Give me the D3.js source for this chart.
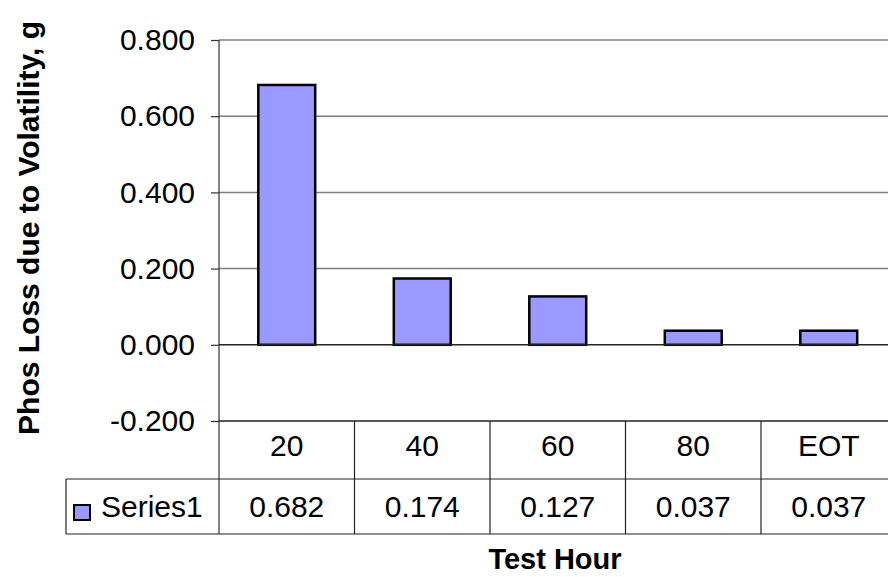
<!DOCTYPE html>
<html>
<head>
<meta charset="utf-8">
<script src="https://cdn.jsdelivr.net/npm/d3@7"></script>
<style>
  html, body { margin: 0; padding: 0; background: #fff; }
  svg { display: block; }
  text { font-family: "Liberation Sans", Arial, sans-serif; fill: #000; }
</style>
</head>
<body>
<svg id="chart" width="888" height="577"></svg>
<script>
const categories = ["20", "40", "60", "80", "EOT"];
const values = [0.682, 0.174, 0.127, 0.037, 0.037];
const valueLabels = ["0.682", "0.174", "0.127", "0.037", "0.037"];
const yTicks = [-0.2, 0, 0.2, 0.4, 0.6, 0.8];
const seriesName = "Series1";
const yTitle = "Phos Loss due to Volatility, g";
const xTitle = "Test Hour";

(function () {
const svg = d3.select("#chart");
const pLeft = 219, pRight = 896.5, pTop = 40, pBottom = 421;
const headerBottom = 479, tableBottom = 534, legendLeft = 66;
const fs = 30;

const x = d3.scaleBand().domain(categories).range([pLeft, pRight]).paddingInner(0).paddingOuter(0);
const xb = d3.scaleBand().domain(categories).range([pLeft, pRight]).paddingInner(0.58).paddingOuter(0.29);
const y = d3.scaleLinear().domain([-0.2, 0.8]).range([pBottom, pTop]);

// gridlines
svg.append("g").selectAll("line").data(yTicks.filter(t => t !== -0.2 && t !== 0)).join("line")
  .attr("x1", pLeft).attr("x2", 888).attr("y1", d => y(d)).attr("y2", d => y(d))
  .attr("stroke", "#808080").attr("stroke-width", 1.5);

// y axis
const fmt = d3.format(".3f");
const yAxis = d3.axisLeft(y).tickValues(yTicks).tickFormat(d => fmt(d).replace("\u2212", "-")).tickSize(8).tickPadding(16);
const ya = svg.append("g").attr("transform", `translate(${pLeft},0)`).call(yAxis);
ya.select(".domain").remove();
ya.selectAll(".tick line").attr("stroke", "#333").attr("stroke-width", 1.2);
ya.selectAll(".tick text").attr("font-size", fs).attr("font-family", "Liberation Sans, Arial, sans-serif").attr("fill", "#000");
svg.append("line").attr("x1", pLeft).attr("x2", pLeft).attr("y1", pTop).attr("y2", tableBottom)
  .attr("stroke", "#333").attr("stroke-width", 1.2);

// bars
svg.append("g").selectAll("rect").data(values).join("rect")
  .attr("x", (d, i) => xb(categories[i]))
  .attr("width", xb.bandwidth())
  .attr("y", d => y(Math.max(0, d)))
  .attr("height", d => Math.abs(y(d) - y(0)))
  .attr("fill", "#9999FF").attr("stroke", "#000").attr("stroke-width", 2.5);

// zero line
svg.append("line").attr("x1", pLeft).attr("x2", 888).attr("y1", y(0)).attr("y2", y(0))
  .attr("stroke", "#222").attr("stroke-width", 1.5);

// table
const tg = svg.append("g");
tg.append("line").attr("x1", pLeft).attr("x2", 888).attr("y1", pBottom).attr("y2", pBottom).attr("stroke", "#222").attr("stroke-width", 1.5);
tg.append("line").attr("x1", legendLeft).attr("x2", 888).attr("y1", headerBottom).attr("y2", headerBottom).attr("stroke", "#222").attr("stroke-width", 1.2);
tg.append("line").attr("x1", legendLeft).attr("x2", 888).attr("y1", tableBottom).attr("y2", tableBottom).attr("stroke", "#222").attr("stroke-width", 1.2);
tg.append("line").attr("x1", legendLeft).attr("x2", legendLeft).attr("y1", headerBottom).attr("y2", tableBottom).attr("stroke", "#222").attr("stroke-width", 1.2);
tg.selectAll("line.sep").data(categories.slice(1)).join("line").attr("class", "sep")
  .attr("x1", d => x(d)).attr("x2", d => x(d)).attr("y1", pBottom).attr("y2", tableBottom)
  .attr("stroke", "#222").attr("stroke-width", 1.2);
tg.selectAll("text.cat").data(categories).join("text").attr("class", "cat")
  .attr("x", d => x(d) + x.bandwidth() / 2).attr("y", 456)
  .attr("text-anchor", "middle").attr("font-size", fs).text(d => d);
tg.selectAll("text.val").data(valueLabels).join("text").attr("class", "val")
  .attr("x", (d, i) => x(categories[i]) + x.bandwidth() / 2).attr("y", 517)
  .attr("text-anchor", "middle").attr("font-size", fs).text(d => d);
// legend key
tg.append("rect").attr("x", 74).attr("y", 505).attr("width", 16).attr("height", 15)
  .attr("fill", "#9999FF").attr("stroke", "#000").attr("stroke-width", 2);
tg.append("text").attr("x", 101).attr("y", 517)
  .attr("font-size", fs).text(seriesName);

// titles
svg.append("text").attr("transform", `translate(39,228) rotate(-90)`)
  .attr("text-anchor", "middle").attr("font-size", 30).attr("font-weight", "bold").text(yTitle);
svg.append("text").attr("x", 555).attr("y", 569).attr("text-anchor", "middle")
  .attr("font-size", 29).attr("font-weight", "bold").text(xTitle);
})();
</script>
</body>
</html>
